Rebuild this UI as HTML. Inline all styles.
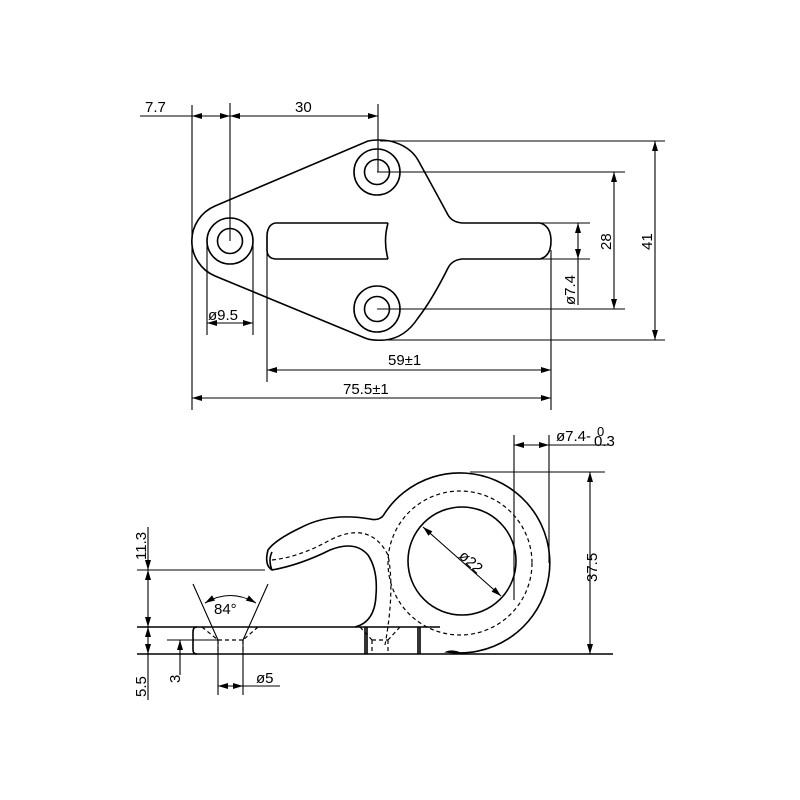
<!DOCTYPE html>
<html><head><style>body{margin:0;background:#fff}svg{display:block}text{font-family:"Liberation Sans",sans-serif;font-size:15px;fill:#000}</style></head>
<body>
<svg width="800" height="800" viewBox="0 0 800 800" xmlns="http://www.w3.org/2000/svg">
<defs>
<marker id="a" viewBox="0 0 10 6" refX="10" refY="3" markerWidth="10" markerHeight="6" orient="auto-start-reverse" markerUnits="userSpaceOnUse"><path d="M0,0L10,3L0,6z" fill="#000"/></marker>
</defs>
<g fill="none" stroke="#000" stroke-width="1.6">
<path d="M215,206 L368,141 Q377,139 390,141 Q410,146 418,160 Q440,200 448,215 Q452,222 462,223 L540,223 Q551,226 551,241 Q551,256 540,259 L462,259 Q452,260 448,268 Q432,300 418,318 Q405,338 385,340 Q372,341 365,338 L215,276 A38,38 0 0 1 215,206 Z"/>
<path d="M275,223 L388,223 M275,259 L388,259 M275,223 Q267,225 267,237 L267,250 Q267,258 275,259"/>
<path d="M388,223 Q383,241 388,259"/>
<circle cx="230" cy="241" r="23"/><circle cx="230" cy="241" r="12.5"/>
<circle cx="377" cy="172" r="23"/><circle cx="377" cy="172" r="12.5"/>
<circle cx="377" cy="309" r="23"/><circle cx="377" cy="309" r="12.5"/>
</g>
<g fill="none" stroke="#000" stroke-width="1.1">
<path d="M192,105V410 M230,103V241 M378,104V172 M140,116H192"/>
<path d="M192,116H230" marker-end="url(#a)" marker-start="url(#a)"/>
<path d="M230,116H378" marker-end="url(#a)" marker-start="url(#a)"/>
<path d="M380,141H665 M377,172H625 M377,309H625 M385,340H665"/>
<path d="M655,141V340" marker-end="url(#a)" marker-start="url(#a)"/>
<path d="M614,172V309" marker-end="url(#a)" marker-start="url(#a)"/>
<path d="M540,223H590 M540,259H590"/>
<path d="M578,223V259" marker-end="url(#a)" marker-start="url(#a)"/>
<path d="M578,259V305"/>
<path d="M207,241V335 M253,241V335"/>
<path d="M207,323H253" marker-end="url(#a)" marker-start="url(#a)"/>
<path d="M267,232V382 M551,250V410"/>
<path d="M267,370H551" marker-end="url(#a)" marker-start="url(#a)"/>
<path d="M192,398H551" marker-end="url(#a)" marker-start="url(#a)"/>
</g>
<text x="145" y="112">7.7</text>
<text x="295" y="112">30</text>
<text x="208" y="320">ø9.5</text>
<text x="388" y="365">59±1</text>
<text x="343" y="394">75.5±1</text>
<text transform="translate(611,250) rotate(-90)">28</text>
<text transform="translate(652,250) rotate(-90)">41</text>
<text transform="translate(575,305) rotate(-90)">ø7.4</text>

<g fill="none" stroke="#000" stroke-width="1.6">
<path d="M137,654H613 M137,627H440"/>
<path d="M383,516 A90,90 0 1 1 447,652 Q452,650 460,653"/>
<circle cx="462" cy="561" r="54"/>
<path d="M383,516 Q378,521 370,519 Q330,512 300,528 Q275,540 268,550 Q264,565 272,570 Q300,565 330,550 Q355,540 368,555 Q378,570 376,595 Q375,622 355,627"/>
<path d="M272,570 Q268,560 272,552"/>
<path d="M197,627 Q193,627 193,632 L193,650 Q193,654 197,654"/>
<path d="M365,627V654 M367,627V654 M418,627V654 M420,627V654"/>
</g>
<g fill="none" stroke="#000" stroke-width="1.2" stroke-dasharray="4,3">
<circle cx="460" cy="563" r="72"/>
<path d="M272,560 Q300,557 330,540 Q370,520 388,555 Q395,590 385,645"/>
<path d="M218,640H243 M218,640V654 M243,640V654 M202,627L218,640 M258,627L243,640"/>
<path d="M360,627L372,640 M400,627L388,640 M372,640H388 M372,640V654 M388,640V654"/>
</g>
<g fill="none" stroke="#000" stroke-width="1.1">
<path d="M137,570H265"/>
<path d="M148,527V570" marker-end="url(#a)"/>
<path d="M148,570V627" marker-end="url(#a)" marker-start="url(#a)"/>
<path d="M148,627V654" marker-end="url(#a)" marker-start="url(#a)"/>
<path d="M148,654V700"/>
<path d="M193,584L218,640 M268,584L243,640"/>
<path d="M205,603 Q230,588 256,603" marker-end="url(#a)" marker-start="url(#a)"/>
<path d="M167,640H218"/>
<path d="M180,675V640" marker-end="url(#a)"/>
<path d="M218,640V695 M243,640V695"/>
<path d="M218,686H243" marker-end="url(#a)" marker-start="url(#a)"/>
<path d="M243,686H280"/>
<path d="M470,472H605"/>
<path d="M590,472V654" marker-end="url(#a)" marker-start="url(#a)"/>
<path d="M514,435V600 M549,435V563"/>
<path d="M514,445H549" marker-end="url(#a)" marker-start="url(#a)"/>
<path d="M549,445H610"/>
<path d="M423,527L501,596" marker-end="url(#a)" marker-start="url(#a)"/>
</g>
<text transform="translate(146,560) rotate(-90)">11.3</text>
<text transform="translate(146,697) rotate(-90)">5.5</text>
<text transform="translate(180,683) rotate(-90)">3</text>
<text x="214" y="614">84°</text>
<text x="256" y="683">ø5</text>
<text transform="translate(597,582) rotate(-90)">37.5</text>
<text x="556" y="441">ø7.4-</text>
<text x="597" y="436" style="font-size:13px">0</text>
<text x="594" y="446">0.3</text>
<text transform="translate(458,557) rotate(42)">ø22</text>
</svg>
</body></html>
